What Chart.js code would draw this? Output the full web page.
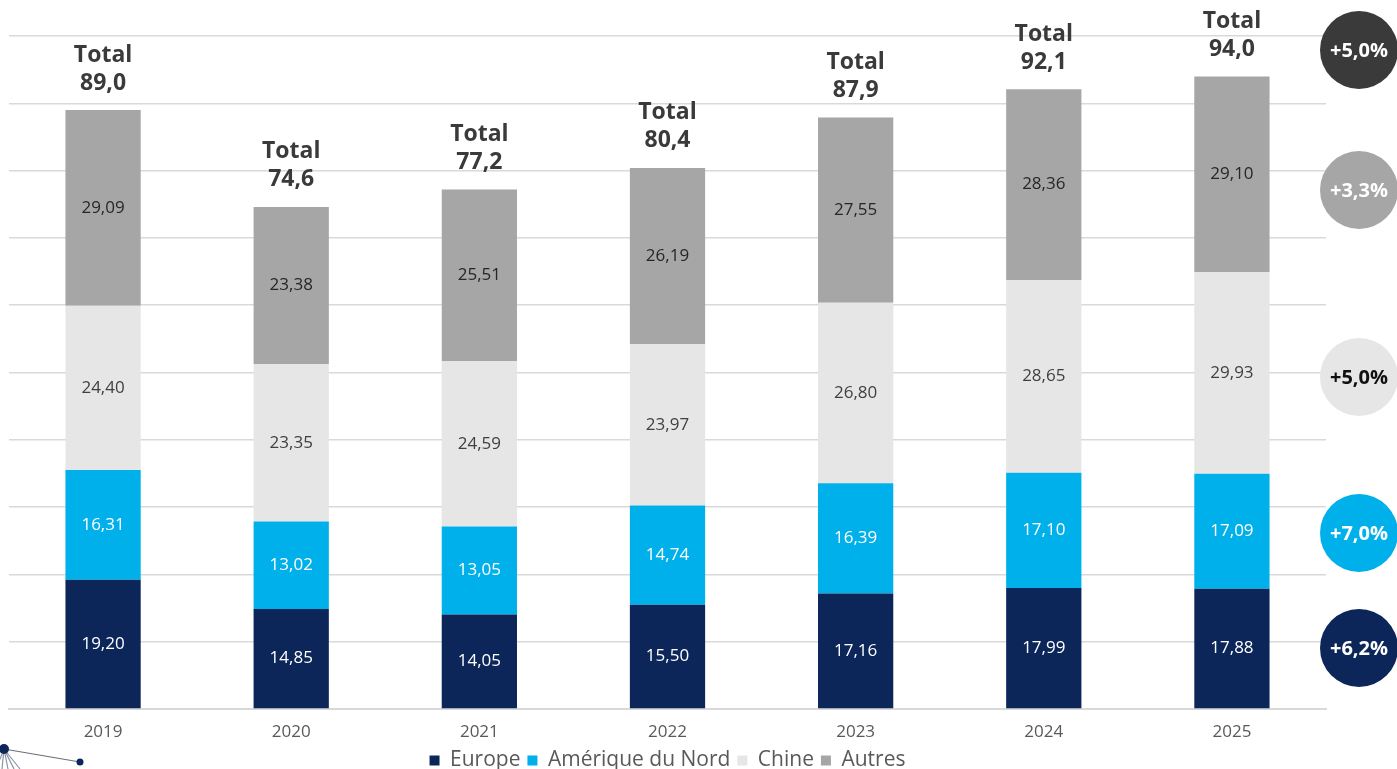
<!DOCTYPE html>
<html lang="fr">
<head>
<meta charset="utf-8">
<title>Ventes par région</title>
<script src="https://cdn.jsdelivr.net/npm/chart.js@4"></script>
<style>
    html, body { margin: 0; padding: 0; background: #fff; overflow: hidden; }
    #wrap { position: relative; width: 1397px; height: 781px; }
</style>
</head>
<body>
<div id="wrap"><canvas id="c-ventes"></canvas></div>
<script>
// === DATA ===
const years = ['2019', '2020', '2021', '2022', '2023', '2024', '2025'];
const europe = [19.20, 14.85, 14.05, 15.50, 17.16, 17.99, 17.88];
const ameriqueNord = [16.31, 13.02, 13.05, 14.74, 16.39, 17.10, 17.09];
const chine = [24.40, 23.35, 24.59, 23.97, 26.80, 28.65, 29.93];
const autres = [29.09, 23.38, 25.51, 26.19, 27.55, 28.36, 29.10];
// croissance annuelle moyenne : total, autres, chine, amérique, europe
const growthLabels = ['+5,0%', '+3,3%', '+5,0%', '+7,0%', '+6,2%'];

const FONT = "'Open Sans', 'Noto Sans', sans-serif";
const C = {
    navy: '#0c2659',
    cyan: '#00b0ea',
    light: '#e6e6e6',
    gray: '#a6a6a6',
    dark: '#3a3a3a',
    grid: '#d9d9d9',
    muted: '#595959'
};

const fmt = (v, d) => v.toFixed(d).replace('.', ',');

// === LABELS IN SEGMENTS + TOTALS ===
const barLabels = {
    id: 'barLabels',
    afterDatasetsDraw(chart) {
        const ctx = chart.ctx;
        ctx.save();
        ctx.textAlign = 'center';
        ctx.textBaseline = 'middle';
        ctx.font = '17px ' + FONT;
        chart.data.datasets.forEach((ds, i) => {
            const meta = chart.getDatasetMeta(i);
            meta.data.forEach((bar, j) => {
                ctx.fillStyle = ds.labelColor;
                ctx.fillText(fmt(ds.data[j], 2), bar.x, (bar.y + bar.base) / 2);
            });
        });
        // totals above the stack
        const last = chart.getDatasetMeta(chart.data.datasets.length - 1);
        ctx.font = 'bold 23px ' + FONT;
        ctx.fillStyle = C.dark;
        last.data.forEach((bar, j) => {
            const total = chart.data.datasets.reduce((s, ds) => s + ds.data[j], 0);
            ctx.fillText('Total', bar.x, bar.y - 55);
            ctx.fillText(fmt(total, 1), bar.x, bar.y - 27);
        });
        ctx.restore();
    }
};

// === GROWTH BUBBLES + LOGO ===
const bubbles = {
    id: 'bubbles',
    afterDraw(chart) {
        const ctx = chart.ctx;
        const x = chart.chartArea.right + 33;
        const ys = [50, 190, 377, 533, 648];
        const fills = [C.dark, C.gray, C.light, C.cyan, C.navy];
        const inks = ['#fff', '#fff', '#111', '#fff', '#fff'];
        ctx.save();
        ctx.textAlign = 'center';
        ctx.textBaseline = 'middle';
        ctx.font = 'bold 20px ' + FONT;
        ys.forEach((y, i) => {
            ctx.beginPath();
            ctx.arc(x, y, 39, 0, Math.PI * 2);
            ctx.fillStyle = fills[i];
            ctx.fill();
            ctx.fillStyle = inks[i];
            ctx.fillText(growthLabels[i], x, y + 1);
        });

        // small network logo, bottom left
        ctx.strokeStyle = '#8a93a8';
        ctx.lineWidth = 1.2;
        [[-4, 769], [2, 769], [8, 769], [14, 769], [20, 769]].forEach(p => {
            ctx.beginPath(); ctx.moveTo(4, 749); ctx.lineTo(p[0], p[1]); ctx.stroke();
        });
        ctx.strokeStyle = '#6b6f78';
        ctx.beginPath(); ctx.moveTo(4, 749); ctx.lineTo(80, 762); ctx.stroke();
        ctx.fillStyle = C.navy;
        ctx.beginPath(); ctx.arc(4, 749, 5, 0, Math.PI * 2); ctx.fill();
        ctx.beginPath(); ctx.arc(80, 762, 3.5, 0, Math.PI * 2); ctx.fill();
        ctx.restore();
    }
};

// === CHART ===
new Chart(document.getElementById('c-ventes'), {
    type: 'bar',
    data: {
        labels: years,
        datasets: [
            { label: 'Europe', data: europe, backgroundColor: C.navy, labelColor: '#fff' },
            { label: 'Amérique du Nord', data: ameriqueNord, backgroundColor: C.cyan, labelColor: '#fff' },
            { label: 'Chine', data: chine, backgroundColor: C.light, labelColor: '#404040' },
            { label: 'Autres', data: autres, backgroundColor: C.gray, labelColor: '#262626' }
        ]
    },
    options: {
        responsive: true,
        maintainAspectRatio: false,
        animation: false,
        datasets: { bar: { barPercentage: 1, categoryPercentage: 0.4 } },
        layout: { padding: { top: 36, left: 9, right: 71, bottom: 0 } },
        plugins: {
            legend: {
                position: 'bottom',
                labels: {
                    color: C.muted,
                    font: { family: FONT, size: 21 },
                    boxWidth: 10, boxHeight: 10, padding: 7
                }
            },
            tooltip: { enabled: false }
        },
        scales: {
            x: {
                stacked: true,
                grid: { display: false, drawTicks: false },
                border: { color: C.grid, width: 2 },
                ticks: { color: C.muted, font: { family: FONT, size: 17 }, padding: 13 },
                // year labels sit close to the legend row
                afterFit: s => { s.height = 34; }
            },
            y: {
                stacked: true,
                min: 0, max: 100,
                ticks: { display: false, stepSize: 10 },
                grid: { color: C.grid, lineWidth: 1.5, drawTicks: false },
                border: { display: false }
            }
        }
    },
    plugins: [barLabels, bubbles]
});
</script>
</body>
</html>
